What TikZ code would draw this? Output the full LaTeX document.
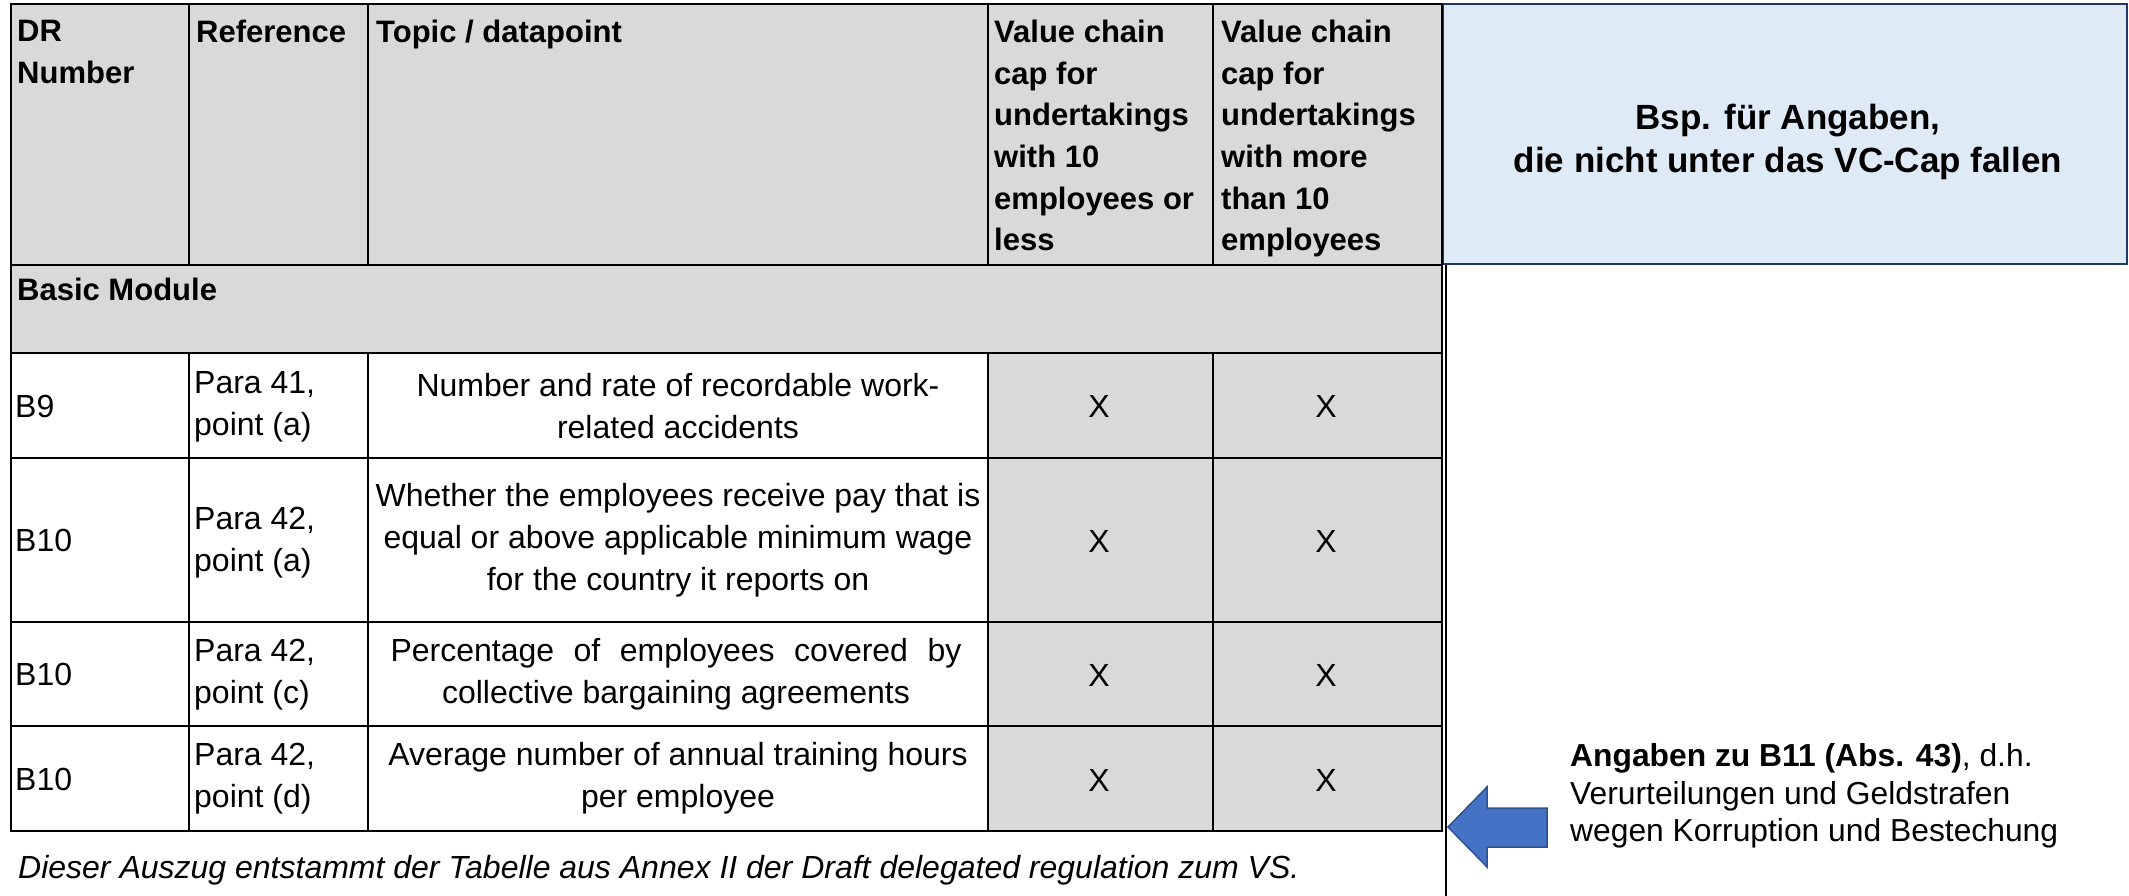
\documentclass[tikz,border=0pt]{standalone}
\usepackage{fontspec}
\setmainfont{Liberation Sans}
\definecolor{cellgray}{HTML}{D9D9D9}
\definecolor{panelblue}{HTML}{DEEBF7}
\definecolor{panelrule}{HTML}{203864}
\definecolor{arrowblue}{HTML}{4472C4}
\definecolor{arrowrule}{HTML}{2F528F}
\begin{document}
\begin{tikzpicture}[x=1pt, y=-1pt,
	head/.style={anchor=north west, inner sep=0pt, align=left, font=\fontsize{31}{41.6}\selectfont\bfseries},
	txt/.style={inner sep=0pt, font=\fontsize{32}{41.8}\selectfont},
	grid/.style={line width=1.6pt}]
					\useasboundingbox (0,0) rectangle (2129,896);
					\fill[cellgray] (11,4) rectangle (1442,353);
					\fill[cellgray] (988,353) rectangle (1442,831);
					\filldraw[fill=panelblue, draw=panelrule, line width=2.5pt] (1443,4) rectangle (2127,264);
					\draw[grid] (11,4) rectangle (1442,831);
					\draw[grid] (11,265) -- (1442,265) (11,353) -- (1442,353);
					\draw[grid] (11,458) -- (1442,458) (11,622) -- (1442,622) (11,726) -- (1442,726);
					\draw[grid] (189,4) -- (189,265) (189,353) -- (189,831);
					\draw[grid] (368,4) -- (368,265) (368,353) -- (368,831);
					\draw[grid] (988,4) -- (988,265) (988,353) -- (988,831);
					\draw[grid] (1213,4) -- (1213,265);
					\draw[line width=1.1pt] (1213,353) -- (1213,831);
					\draw[grid] (1446,265) -- (1446,896);
					\node[head] (dr) at (17,20) {DR\\Number};
					\node[head] (ref) at (196,20) {Reference};
					\node[head] (topic) at (376,20) {Topic / datapoint};
					\node[head] (capsmall) at (994,20) {Value chain\\cap for\\undertakings\\with 10\\employees or\\less};
					\node[head] (caplarge) at (1221,20) {Value chain\\cap for\\undertakings\\with more\\than 10\\employees};
					\node[head] (basic) at (17,278) {Basic Module};
					\node[inner sep=0pt, align=center, font=\fontsize{35}{43}\selectfont\bfseries] (title) at (1788,142) {Bsp. für Angaben,\\die nicht unter das VC-Cap fallen};
					\node[txt, anchor=west] (dr1) at (15,406) {B9};
					\node[txt, anchor=west, align=left] (ref1) at (194,407) {Para 41,\\point (a)};
					\node[txt, align=center] (topic1) at (678,406) {Number and rate of recordable work-\\related accidents};
					\node[txt] (xa1) at (1099,406) {X};
					\node[txt] (xb1) at (1326,406) {X};
					\node[txt, anchor=west] (dr2) at (15,540) {B10};
					\node[txt, anchor=west, align=left] (ref2) at (194,543) {Para 42,\\point (a)};
					\node[txt, align=center] (topic2) at (678,540) {Whether the employees receive pay that is\\equal or above applicable minimum wage\\for the country it reports on};
					\node[txt] (xa2) at (1099,541) {X};
					\node[txt] (xb2) at (1326,541) {X};
					\node[txt, anchor=west] (dr3) at (15,674) {B10};
					\node[txt, anchor=west, align=left] (ref3) at (194,675) {Para 42,\\point (c)};
					\node[txt, align=center] (topic3) at (676,674) {\makebox[571pt][s]{Percentage of employees covered by}\\collective bargaining agreements};
					\node[txt] (xa3) at (1099,675) {X};
					\node[txt] (xb3) at (1326,675) {X};
					\node[txt, anchor=west] (dr4) at (15,779) {B10};
					\node[txt, anchor=west, align=left] (ref4) at (194,779) {Para 42,\\point (d)};
					\node[txt, align=center] (topic4) at (678,778) {Average number of annual training hours\\per employee};
					\node[txt] (xa4) at (1099,780) {X};
					\node[txt] (xb4) at (1326,780) {X};
					\node[txt, anchor=west, font=\fontsize{32}{40}\selectfont\itshape] (caption) at (18,870) {Dieser Auszug entstammt der Tabelle aus Annex II der Draft delegated regulation zum VS.};
					\filldraw[fill=arrowblue, draw=arrowrule, line width=1.5pt] (1448,827) -- (1487,787) -- (1487,808) -- (1547,808) -- (1547,847) -- (1487,847) -- (1487,867) -- cycle;
					\node[inner sep=0pt, anchor=west, align=left, font=\fontsize{31.8}{37.5}\selectfont] (note) at (1570,796) {\textbf{Angaben zu B11 (Abs. 43)}, d.h.\\Verurteilungen und Geldstrafen\\wegen Korruption und Bestechung};
				\end{tikzpicture}
\end{document}
